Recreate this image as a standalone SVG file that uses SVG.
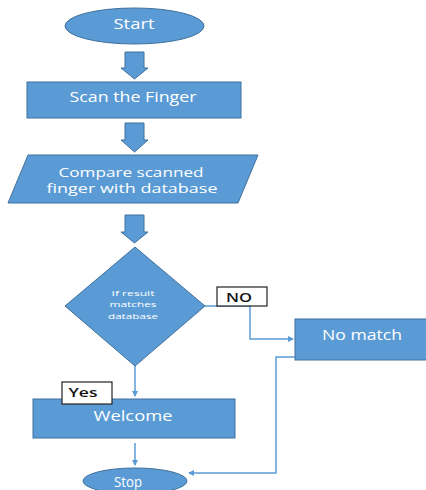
<svg xmlns="http://www.w3.org/2000/svg" width="426" height="490" viewBox="0 0 426 490">
<style>
.sh{fill:#5B9BD5;stroke:#41719C;stroke-width:1}
.t{fill:#fff;font-family:"Open Sans","Liberation Sans",sans-serif;font-size:14px;text-anchor:middle}
.m{font-size:12px}
.s{font-size:8px}
.lb{fill:#fff;stroke:#222;stroke-width:1.2}
.lt{fill:#111;font-family:"Open Sans","Liberation Sans",sans-serif;font-size:13px;font-weight:600;text-anchor:middle}
.c{fill:none;stroke:#5B9BD5;stroke-width:1.5}
</style>
<defs>
<marker id="ah" markerWidth="6" markerHeight="6" refX="5" refY="3" orient="auto" markerUnits="userSpaceOnUse">
<path d="M0,0 L6,3 L0,6 z" fill="#5B9BD5"/>
</marker>
</defs>
<rect width="426" height="490" fill="#fff"/>
<g id="connectors">
<polygon class="sh" points="125,52 144,52 144,68 148,68 134.5,79 121,68 125,68"/>
<polygon class="sh" points="125,123 144,123 144,140 148,140 134.5,152 121,140 125,140"/>
<polygon class="sh" points="125,215 144,215 144,232 148,232 134.5,243 121,232 125,232"/>
<path class="c" d="M135,366 V396" marker-end="url(#ah)"/>
<path class="c" d="M135,443 V465" marker-end="url(#ah)"/>
<path class="c" d="M205,306 H250 V339 H293" marker-end="url(#ah)"/>
<path class="c" d="M295,357 H276 V473 H189" marker-end="url(#ah)"/>
</g>
<g id="start">
<ellipse class="sh" cx="134.5" cy="26" rx="69.5" ry="18"/>
<text class="t" x="134" y="29" textLength="41" lengthAdjust="spacingAndGlyphs">Start</text>
</g>
<g id="scan">
<rect class="sh" x="27" y="82" width="214" height="36"/>
<text class="t" x="133" y="102" textLength="127" lengthAdjust="spacingAndGlyphs">Scan the Finger</text>
</g>
<g id="compare">
<polygon class="sh" points="28,155 258,155 238,203 8,203"/>
<text class="t m" x="131" y="177" textLength="145" lengthAdjust="spacingAndGlyphs">Compare scanned</text>
<text class="t m" x="132" y="193" textLength="171" lengthAdjust="spacingAndGlyphs">finger with database</text>
</g>
<g id="decision">
<polygon class="sh" points="135,247 205,306 135,366 65,306"/>
<text class="t s" x="133" y="296" textLength="43" lengthAdjust="spacingAndGlyphs">If result</text>
<text class="t s" x="133" y="307" textLength="47" lengthAdjust="spacingAndGlyphs">matches</text>
<text class="t s" x="133" y="319" textLength="50" lengthAdjust="spacingAndGlyphs">database</text>
</g>
<g id="welcome">
<rect class="sh" x="33" y="399" width="202" height="39"/>
<text class="t" x="133" y="421" textLength="79" lengthAdjust="spacingAndGlyphs">Welcome</text>
</g>
<g id="yes">
<rect class="lb" x="62" y="382" width="50" height="22"/>
<text class="lt" x="83" y="397" textLength="29" lengthAdjust="spacingAndGlyphs">Yes</text>
</g>
<g id="no">
<rect class="lb" x="217" y="287" width="50" height="19"/>
<text class="lt" x="239" y="302" textLength="26" lengthAdjust="spacingAndGlyphs">NO</text>
</g>
<g id="nomatch">
<rect class="sh" x="295" y="319" width="140" height="41"/>
<text class="t" x="362" y="340" textLength="80" lengthAdjust="spacingAndGlyphs">No match</text>
</g>
<g id="stop">
<ellipse class="sh" cx="135" cy="481" rx="52" ry="13"/>
<text class="t" x="128" y="487" textLength="28" lengthAdjust="spacingAndGlyphs">Stop</text>
</g>
</svg>
